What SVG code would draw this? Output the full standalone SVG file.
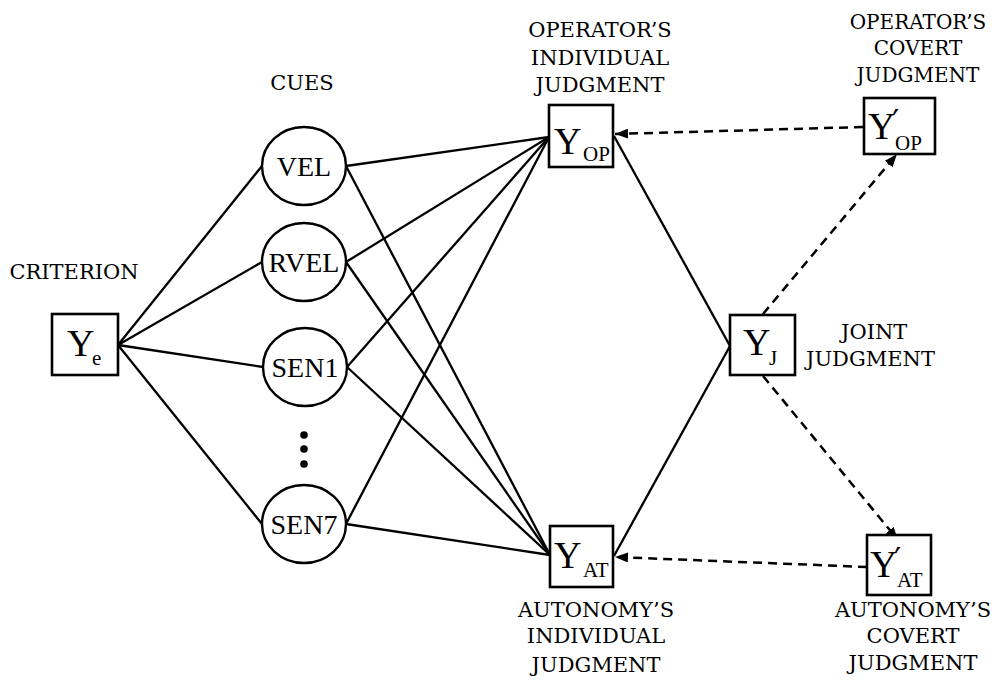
<svg xmlns="http://www.w3.org/2000/svg" width="997" height="691" viewBox="0 0 997 691">
  <style>
    .box { fill: #ffffff; stroke: #000000; stroke-width: 2.6; }
    .cue { fill: #ffffff; stroke: #000000; stroke-width: 2.4; }
    .link { stroke: #000000; stroke-width: 2.3; fill: none; }
    .dash { stroke: #000000; stroke-width: 2.5; fill: none; stroke-dasharray: 9 6; marker-end: url(#head); }
    .lbl { font-family: "DejaVu Serif", "Liberation Serif", serif; font-size: 21px; fill: #000000; text-anchor: middle; }
    .lbl-s { font-family: "DejaVu Serif", "Liberation Serif", serif; font-size: 20px; fill: #000000; text-anchor: middle; }
    .lbl-l { font-family: "DejaVu Serif", "Liberation Serif", serif; font-size: 21px; fill: #000000; }
    .cue-t { font-family: "Liberation Serif", serif; font-size: 28px; fill: #000000; text-anchor: middle; }
    .big { font-family: "Liberation Serif", serif; font-size: 38px; fill: #000000; }
    .sub { font-family: "Liberation Serif", serif; font-size: 21px; }
    .prime { font-family: "DejaVu Serif", serif; font-size: 32px; }
  </style>
  <defs>
    <marker id="head" viewBox="0 0 13 10" refX="13" refY="5" markerWidth="13" markerHeight="10" markerUnits="userSpaceOnUse" orient="auto">
      <path d="M0,0 L13,5 L0,10 z" fill="#000000"/>
    </marker>
  </defs>
  <rect width="997" height="691" fill="#ffffff"/>

  <!-- connectors -->
  <g id="connectors">
    <!-- criterion to cues -->
    <line class="link" x1="118" y1="345" x2="262" y2="166"/>
    <line class="link" x1="118" y1="345" x2="262" y2="262"/>
    <line class="link" x1="118" y1="345" x2="263" y2="367"/>
    <line class="link" x1="118" y1="345" x2="262" y2="524"/>
    <!-- cues to operator judgment -->
    <line class="link" x1="346" y1="166" x2="549" y2="137"/>
    <line class="link" x1="346" y1="262" x2="549" y2="137"/>
    <line class="link" x1="347" y1="367" x2="549" y2="137"/>
    <line class="link" x1="346" y1="524" x2="549" y2="137"/>
    <!-- cues to autonomy judgment -->
    <line class="link" x1="346" y1="166" x2="550" y2="555"/>
    <line class="link" x1="346" y1="262" x2="550" y2="555"/>
    <line class="link" x1="347" y1="367" x2="550" y2="555"/>
    <line class="link" x1="346" y1="524" x2="550" y2="555"/>
    <!-- individual judgments to joint judgment -->
    <line class="link" x1="614" y1="136" x2="730" y2="346"/>
    <line class="link" x1="614" y1="556" x2="730" y2="346"/>
    <!-- covert judgments -->
    <line class="dash" x1="863" y1="127" x2="615" y2="134"/>
    <line class="dash" x1="763" y1="314" x2="897" y2="154"/>
    <line class="dash" x1="763" y1="376" x2="898" y2="540"/>
    <line class="dash" x1="867" y1="567" x2="615" y2="557"/>
  </g>

  <!-- criterion -->
  <g id="criterion">
    <text class="lbl" x="74" y="279">CRITERION</text>
    <rect class="box" x="52" y="314" width="66" height="61"/>
    <text class="big" x="67" y="356">Y<tspan class="sub" x="92" y="365">e</tspan></text>
  </g>

  <!-- cues -->
  <g id="cues">
    <text class="lbl" x="302" y="90">CUES</text>
  </g>
  <g id="cue-vel">
    <ellipse class="cue" cx="304" cy="166" rx="42" ry="39"/>
    <text class="cue-t" x="304" y="176">VEL</text>
  </g>
  <g id="cue-rvel">
    <ellipse class="cue" cx="304" cy="262" rx="42" ry="39"/>
    <text class="cue-t" x="304" y="272">RVEL</text>
  </g>
  <g id="cue-sen1">
    <ellipse class="cue" cx="305" cy="367" rx="42" ry="39"/>
    <text class="cue-t" x="305" y="377">SEN1</text>
  </g>
  <g id="cue-ellipsis">
    <circle cx="304" cy="435" r="3.8" fill="#000000"/>
    <circle cx="304" cy="449" r="3.8" fill="#000000"/>
    <circle cx="304" cy="464" r="3.8" fill="#000000"/>
  </g>
  <g id="cue-sen7">
    <ellipse class="cue" cx="304" cy="524" rx="42" ry="39"/>
    <text class="cue-t" x="304" y="534">SEN7</text>
  </g>

  <!-- operator's individual judgment -->
  <g id="operator-individual">
    <text class="lbl" x="600" y="37">OPERATOR’S</text>
    <text class="lbl" x="600" y="65">INDIVIDUAL</text>
    <text class="lbl" x="600" y="92">JUDGMENT</text>
    <rect class="box" x="549" y="105" width="64" height="62"/>
    <text class="big" x="554" y="154">Y<tspan class="sub" x="583" y="161">OP</tspan></text>
  </g>

  <!-- operator's covert judgment -->
  <g id="operator-covert">
    <text class="lbl-s" x="918" y="29">OPERATOR’S</text>
    <text class="lbl-s" x="918" y="55">COVERT</text>
    <text class="lbl-s" x="918" y="82">JUDGMENT</text>
    <rect class="box" x="864" y="98" width="71" height="56"/>
    <text class="big" x="868" y="139">Y<tspan class="prime" x="892" y="132">′</tspan><tspan class="sub" x="895" y="150">OP</tspan></text>
  </g>

  <!-- joint judgment -->
  <g id="joint">
    <rect class="box" x="730" y="315" width="65" height="60"/>
    <text class="big" x="743" y="355">Y<tspan class="sub" x="769" y="365">J</tspan></text>
    <text class="lbl-l" x="841" y="339">JOINT</text>
    <text class="lbl-l" x="806" y="366">JUDGMENT</text>
  </g>

  <!-- autonomy's individual judgment -->
  <g id="autonomy-individual">
    <rect class="box" x="550" y="526" width="63" height="61"/>
    <text class="big" x="554" y="568">Y<tspan class="sub" x="583" y="577">AT</tspan></text>
    <text class="lbl" x="596" y="617">AUTONOMY’S</text>
    <text class="lbl" x="596" y="643">INDIVIDUAL</text>
    <text class="lbl" x="596" y="672">JUDGMENT</text>
  </g>

  <!-- autonomy's covert judgment -->
  <g id="autonomy-covert">
    <rect class="box" x="867" y="535" width="64" height="60"/>
    <text class="big" x="870" y="577">Y<tspan class="prime" x="894" y="570">′</tspan><tspan class="sub" x="897" y="587">AT</tspan></text>
    <text class="lbl" x="913" y="617">AUTONOMY’S</text>
    <text class="lbl" x="913" y="643">COVERT</text>
    <text class="lbl" x="913" y="670">JUDGMENT</text>
  </g>
</svg>
